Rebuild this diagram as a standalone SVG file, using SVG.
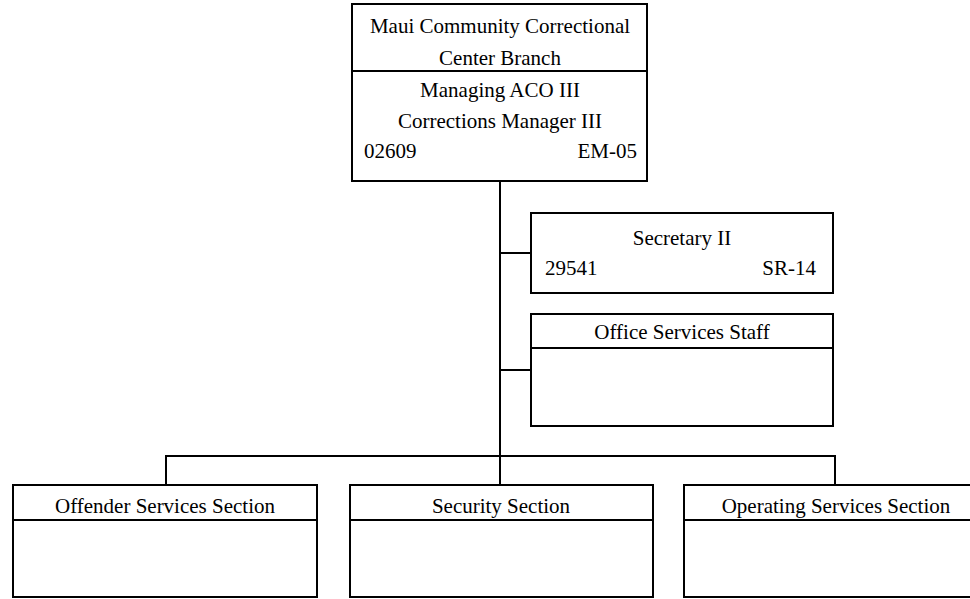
<svg xmlns="http://www.w3.org/2000/svg" width="970" height="599" viewBox="0 0 970 599">
<style>
.box{fill:#fff;stroke:#000;stroke-width:2}
.ln{fill:none;stroke:#000;stroke-width:2}
text{font-family:"Liberation Serif","Times New Roman",serif;font-size:21px;fill:#000}
.c{text-anchor:middle}
.e{text-anchor:end}
</style>
<rect width="970" height="599" fill="#fff"/>
<g id="connectors" class="ln">
<path d="M500 181V456"/>
<path d="M500 253H531"/>
<path d="M500 370H531"/>
<path d="M166 456H835"/>
<path d="M166 455V485M500 455V485M835 455V485"/>
</g>
<g id="branch">
<rect class="box" x="352" y="4" width="295" height="177"/>
<path class="ln" d="M352 71H647"/>
<text class="c" x="500" y="33">Maui Community Correctional</text>
<text class="c" x="500" y="65">Center Branch</text>
<text class="c" x="500" y="97">Managing ACO III</text>
<text class="c" x="500" y="128">Corrections Manager III</text>
<text x="364" y="158">02609</text>
<text class="e" x="637" y="158">EM-05</text>
</g>
<g id="secretary">
<rect class="box" x="531" y="213" width="302" height="80"/>
<text class="c" x="682" y="245">Secretary II</text>
<text x="545" y="275">29541</text>
<text class="e" x="816" y="275">SR-14</text>
</g>
<g id="office">
<rect class="box" x="531" y="314" width="302" height="112"/>
<path class="ln" d="M531 348H833"/>
<text class="c" x="682" y="339">Office Services Staff</text>
</g>
<g id="offender">
<rect class="box" x="13" y="485" width="304" height="112"/>
<path class="ln" d="M13 520H317"/>
<text class="c" x="165" y="513">Offender Services Section</text>
</g>
<g id="security">
<rect class="box" x="350" y="485" width="303" height="112"/>
<path class="ln" d="M350 520H653"/>
<text class="c" x="501" y="513">Security Section</text>
</g>
<g id="operating">
<rect class="box" x="684" y="485" width="304" height="112"/>
<path class="ln" d="M684 520H988"/>
<text class="c" x="836" y="513">Operating Services Section</text>
</g>
</svg>
